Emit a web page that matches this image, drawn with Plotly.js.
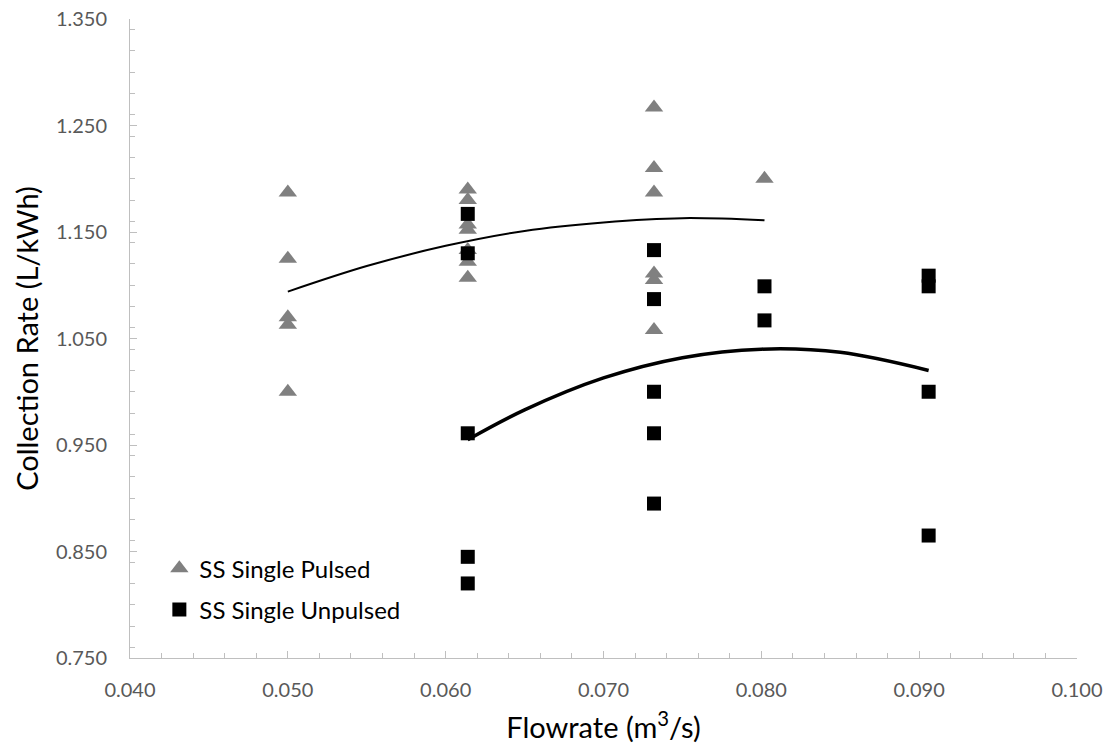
<!DOCTYPE html>
<html>
<head>
<meta charset="utf-8">
<script src="https://cdn.plot.ly/plotly-3.0.1.min.js"></script>
<style>html,body{margin:0;padding:0;background:#fff;}#chart{width:1115px;height:751px;}</style>
</head>
<body>
<div id="chart"></div>
<script>
// Scatter data (flowrate m3/s, collection rate L/kWh)
const pulsedX = [0.0500,0.0500,0.0500,0.0500,0.0500,
                 0.0614,0.0614,0.0614,0.0614,0.0614,0.0614,0.0614,
                 0.0732,0.0732,0.0732,0.0732,0.0732,0.0732,
                 0.0802];
const pulsedY = [1.187,1.125,1.070,1.063,1.000,
                 1.190,1.180,1.157,1.152,1.133,1.122,1.107,
                 1.267,1.210,1.187,1.111,1.105,1.058,
                 1.200];
const unpulsedX = [0.0614,0.0614,0.0614,0.0614,0.0614,
                   0.0732,0.0732,0.0732,0.0732,0.0732,
                   0.0802,0.0802,
                   0.0906,0.0906,0.0906,0.0906];
const unpulsedY = [1.167,1.130,0.961,0.845,0.820,
                   1.133,1.087,1.000,0.961,0.895,
                   1.099,1.067,
                   1.109,1.099,1.000,0.865];
// Polynomial trend lines
const trendPulsedX = [0.0500,0.0550,0.0600,0.0650,0.0700,0.0750,0.0802];
const trendPulsedY = [1.094,1.118,1.137,1.151,1.159,1.163,1.161];
const trendUnpulsedX = [0.0614,0.0650,0.0700,0.0750,0.0800,0.0850,0.0906];
const trendUnpulsedY = [0.955,0.983,1.013,1.032,1.040,1.037,1.020];
const seriesNames = ["SS Single Pulsed","SS Single Unpulsed"];

const FONT = "Lato, 'Open Sans', sans-serif";
const AX = "#bfbfbf";

const traces = [
  {x: trendPulsedX, y: trendPulsedY, mode:"lines", line:{color:"#000", width:2, shape:"spline"}, showlegend:false, hoverinfo:"skip"},
  {x: trendUnpulsedX, y: trendUnpulsedY, mode:"lines", line:{color:"#000", width:3.5, shape:"spline"}, showlegend:false, hoverinfo:"skip"},
  {x: pulsedX, y: pulsedY, name: seriesNames[0], mode:"markers", legendgroup:"a",
   marker:{symbol:"triangle-up", size:16, color:"#808080"}},
  {x: unpulsedX, y: unpulsedY, name: seriesNames[1], mode:"markers", legendgroup:"b",
   marker:{symbol:"square", size:14, color:"#000"}}
];

const layout = {
  width:1115, height:751,
  margin:{l:130, r:38, t:19, b:93},
  paper_bgcolor:"#fff", plot_bgcolor:"#fff",
  font:{family:FONT, color:"#595959"},
  xaxis:{
    range:[0.04,0.1], dtick:0.01, tick0:0.04, tickformat:".3f",
    showgrid:false, zeroline:false, showline:true, linecolor:AX, linewidth:1,
    ticks:"inside", ticklen:7, tickcolor:AX, tickwidth:1,
    minor:{dtick:0.002, ticks:"inside", ticklen:5, tickcolor:AX, tickwidth:1, showgrid:false},
    tickfont:{family:FONT, size:20, color:"#595959"},
    ticklabelstandoff:14,
    title:{text:"Flowrate (m<sup>3</sup>/s)", font:{family:FONT, size:29, color:"#000"}, standoff:17}
  },
  yaxis:{
    range:[0.75,1.35], dtick:0.1, tick0:0.75, tickformat:".3f",
    showgrid:false, zeroline:false, showline:true, linecolor:AX, linewidth:1,
    ticks:"inside", ticklen:7, tickcolor:AX, tickwidth:1,
    minor:{dtick:0.02, ticks:"inside", ticklen:5, tickcolor:AX, tickwidth:1, showgrid:false},
    tickfont:{family:FONT, size:20, color:"#595959"},
    ticklabelstandoff:18,
    title:{text:"Collection Rate (L/kWh)", font:{family:FONT, size:29, color:"#000"}, standoff:8}
  },
  legend:{x:0.031, y:0.175, xanchor:"left", yanchor:"top", bgcolor:"rgba(0,0,0,0)",
    font:{family:FONT, size:24, color:"#000"}, tracegroupgap:7},
  showlegend:true
};

Plotly.newPlot("chart", traces, layout, {staticPlot:true, displayModeBar:false});
</script>
</body>
</html>
